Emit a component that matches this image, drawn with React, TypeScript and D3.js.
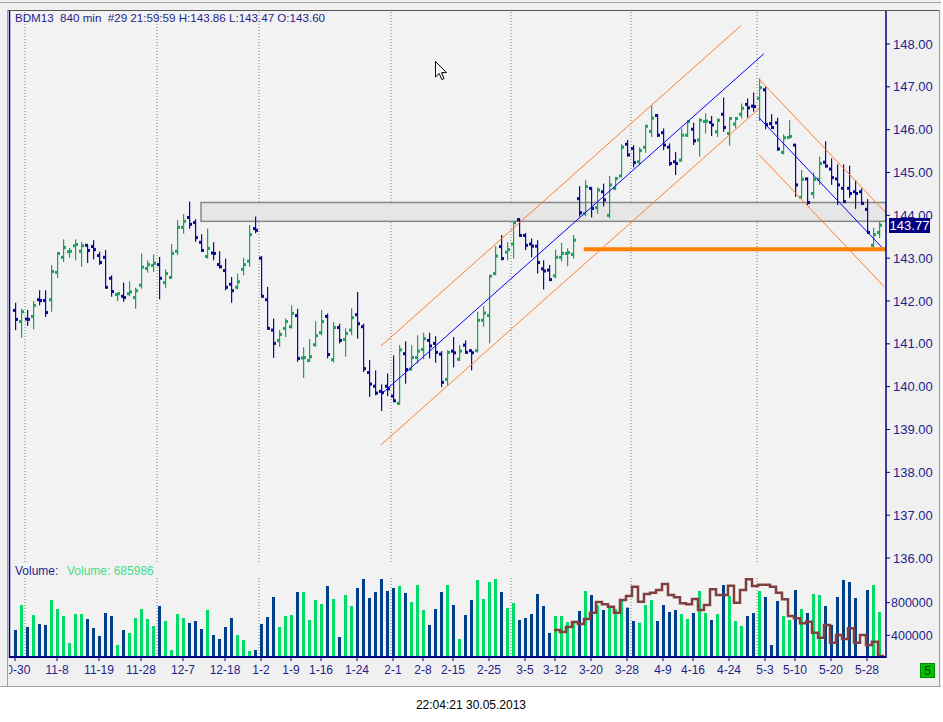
import React from "react";
import * as d3 from "d3";

// daily bars, index 0 = 10-30 ... index 144 = 5-30
const opens = [
  141.78, 141.52, 141.58, 141.64, 142.03, 142.01, 142.03, 142.67, 143.02, 143.15,
  143.29, 143.16, 143.3, 143.27, 143.06, 143.02, 142.53, 142.15, 142.11, 142.17,
  142.08, 142.37, 142.76, 142.83, 142.85, 142.43, 142.55, 143.16, 143.72, 143.95,
  143.83, 143.37, 143.04, 143.12, 142.85, 142.71, 142.39, 142.32, 142.74, 142.93,
  143.69, 143.0, 142.03, 141.32, 141.08, 141.36, 141.4, 141.66, 140.67, 140.61,
  140.98, 141.26, 141.64, 140.63, 141.38, 141.1, 141.32, 141.68, 141.4, 140.33,
  140.01, 139.89, 140.01, 139.78, 139.61, 140.77, 140.41, 140.68, 140.87, 141.08,
  141.01, 140.76, 140.17, 140.83, 140.64, 140.97, 140.84, 140.84, 141.55, 141.66,
  142.64, 143.27, 143.14, 143.33, 143.9, 143.53, 143.33, 143.28, 142.75, 142.72,
  142.59, 143.02, 143.11, 143.09, 144.39, 144.04, 144.63, 144.18, 144.55, 144.0,
  144.63, 144.92, 145.66, 145.56, 145.25, 145.59, 145.96, 146.33, 145.93, 145.59,
  145.25, 145.29, 145.87, 146.01, 145.76, 146.19, 146.17, 145.95, 146.36, 145.91,
  146.13, 146.36, 146.59, 146.55, 146.73, 146.93, 146.14, 146.16, 145.47, 145.82,
  145.64, 144.42, 144.85, 144.51, 144.84, 145.24, 145.08, 144.85, 144.63, 144.63,
  144.55, 144.55, 144.14, 143.3, 143.6,
];
const highs = [
  141.96, 141.82, 141.79, 142.0, 142.25, 142.25, 142.84, 143.13, 143.44, 143.24,
  143.44, 143.38, 143.32, 143.42, 143.15, 143.19, 142.6, 142.2, 142.43, 142.46,
  142.31, 143.11, 142.95, 143.09, 143.03, 142.74, 143.33, 143.89, 144.03, 144.32,
  143.91, 143.56, 143.69, 143.37, 143.16, 142.99, 142.56, 142.64, 143.01, 143.77,
  143.97, 143.05, 142.33, 141.59, 141.32, 141.59, 141.9, 141.82, 140.92, 141.11,
  141.53, 141.79, 141.71, 141.51, 141.47, 141.36, 141.83, 142.21, 141.47, 140.62,
  140.38, 140.05, 140.31, 140.73, 140.97, 141.06, 140.97, 141.2, 141.26, 141.26,
  141.18, 140.83, 140.85, 141.16, 140.97, 141.08, 140.85, 141.75, 141.88, 142.6,
  143.28, 143.54, 143.38, 143.83, 143.93, 143.59, 143.46, 143.42, 142.95, 142.84,
  143.2, 143.36, 143.23, 143.54, 144.68, 144.82, 144.65, 144.65, 144.74, 144.92,
  144.89, 145.66, 145.76, 145.64, 145.59, 146.08, 146.56, 146.36, 146.03, 145.68,
  145.48, 146.03, 146.21, 146.16, 146.26, 146.38, 146.32, 146.26, 146.75, 146.3,
  146.28, 146.61, 146.73, 146.87, 147.2, 147.0, 146.36, 146.28, 145.89, 146.22,
  145.66, 145.06, 144.88, 145.0, 145.37, 145.73, 145.33, 145.19, 145.19, 145.16,
  144.82, 144.63, 144.38, 143.71, 143.86,
];
const lows = [
  141.32, 141.14, 141.42, 141.34, 141.9, 141.63, 141.75, 142.54, 142.91, 143.01,
  142.95, 142.8, 142.89, 142.97, 142.84, 142.31, 142.1, 142.0, 141.98, 142.11,
  141.82, 142.29, 142.66, 142.68, 142.04, 142.31, 142.53, 143.07, 143.57, 143.69,
  143.38, 143.15, 142.99, 142.95, 142.76, 142.25, 141.96, 142.27, 142.6, 142.8,
  143.58, 142.1, 141.36, 140.67, 140.93, 141.16, 141.36, 140.58, 140.2, 140.59,
  140.93, 141.2, 140.66, 140.56, 141.01, 140.7, 141.2, 141.12, 140.34, 139.76,
  139.8, 139.43, 139.78, 139.64, 139.58, 140.07, 140.38, 140.54, 140.64, 140.66,
  140.56, 139.99, 140.03, 140.45, 140.6, 140.8, 140.38, 140.8, 141.4, 141.01,
  142.6, 142.95, 142.95, 142.99, 143.5, 143.19, 143.02, 142.64, 142.27, 142.47,
  142.53, 142.92, 142.81, 142.99, 143.97, 143.98, 143.95, 144.04, 144.21, 143.93,
  144.59, 144.89, 145.37, 145.12, 145.17, 145.46, 145.83, 145.83, 145.52, 145.15,
  144.94, 145.25, 145.83, 145.64, 145.37, 145.91, 145.85, 145.83, 145.95, 145.63,
  146.03, 146.26, 146.28, 146.42, 146.2, 146.01, 146.03, 145.5, 145.42, 145.81,
  144.43, 144.41, 144.24, 144.39, 144.71, 145.12, 144.71, 144.24, 144.3, 144.41,
  144.15, 144.24, 143.6, 143.24, 143.47,
];
const closes = [
  141.57, 141.75, 141.57, 141.9, 142.01, 141.73, 142.69, 143.11, 143.25, 143.16,
  143.32, 143.29, 143.18, 143.2, 142.9, 142.32, 142.22, 142.17, 142.08, 142.21,
  142.24, 142.79, 142.85, 142.88, 142.53, 142.64, 143.11, 143.72, 143.86, 143.79,
  143.48, 143.18, 143.23, 143.11, 142.8, 142.32, 142.24, 142.45, 142.85, 143.55,
  143.65, 142.11, 141.36, 141.01, 141.22, 141.52, 141.71, 140.66, 140.68, 140.7,
  141.19, 141.52, 140.75, 141.38, 141.08, 141.24, 141.61, 141.47, 140.42, 140.06,
  139.85, 139.86, 139.95, 139.67, 140.86, 140.4, 140.68, 140.83, 141.12, 140.95,
  140.8, 140.1, 140.8, 140.79, 140.83, 140.8, 140.79, 141.55, 141.72, 142.58,
  143.05, 142.99, 143.2, 143.83, 143.53, 143.3, 143.28, 142.9, 142.7, 142.5,
  143.02, 143.11, 143.13, 143.42, 144.06, 144.67, 144.16, 144.59, 144.36, 144.71,
  144.86, 145.59, 145.41, 145.23, 145.51, 146.08, 146.27, 145.87, 145.64, 145.21,
  145.21, 145.87, 146.19, 145.74, 146.22, 146.2, 146.11, 146.22, 146.05, 146.26,
  146.26, 146.5, 146.51, 146.54, 146.98, 146.12, 146.05, 145.55, 145.81, 145.84,
  144.71, 144.84, 144.3, 144.84, 145.21, 145.15, 144.88, 144.71, 144.32, 144.51,
  144.51, 144.28, 143.6, 143.55, 143.77,
];
const volumes = [
  465000, 771700, 501800, 649000, 538600, 526350, 833100, 722700, 636800, 305500,
  661300, 661300, 600000, 489500, 391400, 673600, 636800, 281000, 465000, 428200,
  612200, 722700, 600000, 514100, 759500, 575400, 219600, 661300, 612200, 550900,
  575400, 477300, 710400, 403600, 354600, 501800, 612200, 403600, 342300, 207300,
  219600, 538600, 624500, 869900, 501800, 636800, 649000, 931300, 931300, 587700,
  833100, 784000, 1004900, 845400, 379100, 894500, 759500, 980300, 1090800, 857600,
  931300, 1090800, 943500, 980300, 1004900, 919000, 808600, 1017100, 710400, 526350,
  722700, 931300, 1017100, 771700, 354600, 649000, 833100, 1078500, 845400, 1054000,
  1090800, 931300, 734900, 796300, 587700, 612200, 661300, 906700, 759500, 428200,
  636800, 636800, 563200, 563200, 698100, 943500, 894400, 771700, 710400, 739000,
  722700, 820800, 739000, 575400, 555000, 771700, 833100, 575400, 771700, 685900,
  710400, 661300, 600000, 673600, 943500, 673600, 587700, 661300, 1017100, 882200,
  575400, 514100, 636800, 673600, 943500, 869900, 281000, 820800, 636800, 587700,
  955800, 722700, 673600, 906700, 894500, 759500, 526300, 869900, 1078500, 1054000,
  857600, 146000, 955800, 1017100, 685986,
];
// brown step line in the volume pane, starts at bar 90
const avgStart = 90;
const avgValues = [
  465000, 440500, 501800, 563200, 538600, 600000, 677700, 808600, 779900, 751300,
  677700, 833100, 882200, 996700, 812600, 906700, 923100, 955800, 1029400, 894500,
  865800, 792200, 779900, 845400, 710400, 771700, 964000, 894500, 894500, 1009000,
  800400, 955800, 1086700, 1004900, 1021200, 1021200, 996700, 923100, 841300, 636800,
  608200, 546800, 567300, 432300, 371000, 526300, 309600, 403700, 354600, 485500,
  309600, 403700, 281000, 321900, 146000,
];

const tickIndex = [0, 7, 14, 21, 28, 35, 41, 46, 51, 57, 63, 68, 73, 79, 85, 90, 96, 102, 108, 113, 119, 125, 130, 136, 142];
const tickLabels = [
  "10-30", "11-8", "11-19", "11-28", "12-7", "12-18", "1-2", "1-9", "1-16", "1-24", "2-1", "2-8", "2-15",
  "2-25", "3-5", "3-12", "3-20", "3-28", "4-9", "4-16", "4-24", "5-3", "5-10", "5-20", "5-28",
];
const monthStarts = [2, 24, 41, 63, 83, 103, 124];
const priceTicks = [136, 137, 138, 139, 140, 141, 142, 143, 144, 145, 146, 147, 148];
const volumeTicks = [400000, 800000];

// drawn objects: [index, price] end points
const upChannel = [
  { color: "#0000ff", a: [61, 139.82], b: [124.8, 147.77] },
  { color: "#ff7f2a", a: [61, 140.95], b: [121, 148.43] },
  { color: "#ff7f2a", a: [61, 138.64], b: [124, 146.49] },
];
const downChannel = [
  { color: "#0000ff", a: [124, 146.28], b: [144.9, 143.19] },
  { color: "#ff7f2a", a: [124, 147.18], b: [145, 144.08] },
  { color: "#ff7f2a", a: [124, 145.42], b: [144.9, 142.33] },
];
const zoneStart = 31;
const zoneLow = 143.86;
const zoneHigh = 144.3;
const supportStart = 94.8;
const supportLevel = 143.21;

const NAVY = "#1e1e8c";
const FONT = "'Liberation Sans', Arial, sans-serif";
const UP = "#17a35e";
const DOWN = "#0a0aa0";
const VOL_UP = "#00dd66";
const VOL_DOWN = "#003f8a";

const App: React.FC = () => {
  const left = 9;
  const right = 886;
  const volBase = 657;

  const x = d3.scaleLinear().domain([0, 144]).range([15, 879]);
  const y = d3.scaleLinear().domain([136, 148]).range([558, 44]);
  const yv = d3.scaleLinear().domain([400000, 800000]).range([635.3, 602.7]);
  const fmt = d3.format(".2f");

  const avgLine = d3
    .line<number>()
    .x((_, i) => x(avgStart + i) - 1)
    .y((v) => yv(v))
    .curve(d3.curveStepAfter);
  const last = avgValues[avgValues.length - 1];
  const avgPath = (avgLine(avgValues) || "") + `L${x(144) + 5},${yv(last)}`;

  const lastClose = closes[closes.length - 1];

  return (
    <svg
      width={943}
      height={722}
      style={{ position: "absolute", left: 0, top: 0, fontFamily: FONT }}
    >
      <defs>
        <clipPath id="plot">
          <rect x={left} y={11} width={right - left} height={volBase - 11} />
        </clipPath>
      </defs>
      <rect x={0} y={0} width={943} height={722} fill="#ffffff" />
      <rect x={0} y={0} width={941} height={687} fill="#f0f0f0" />
      <line x1={0} x2={941} y1={2.5} y2={2.5} stroke="#a0a0a0" />
      <line x1={7.5} x2={7.5} y1={10} y2={686} stroke="#a0a0a0" />
      <line x1={8} x2={940} y1={10.5} y2={10.5} stroke="#555" />
      <line x1={939.5} x2={939.5} y1={10} y2={686} stroke="#a0a0a0" />
      <line x1={0} x2={941} y1={686.5} y2={686.5} stroke="#a0a0a0" />
      <rect x={left} y={11} width={right - left} height={volBase - 11} fill="#f2f2f2" />

      {/* month separators */}
      {monthStarts.map((k) => (
        <g key={k}>
          <line x1={x(k) - 2} x2={x(k) - 2} y1={12} y2={562} stroke="#808080" strokeDasharray="1,2" />
          <line x1={x(k) - 2} x2={x(k) - 2} y1={578} y2={volBase} stroke="#808080" strokeDasharray="1,2" />
        </g>
      ))}

      <g clipPath="url(#plot)">
        <rect
          x={x(zoneStart)}
          y={y(zoneHigh)}
          width={right - x(zoneStart)}
          height={y(zoneLow) - y(zoneHigh)}
          fill="#e6e6e6"
          stroke="#888"
          strokeWidth={1.5}
        />

        {/* price bars */}
        {closes.map((c, i) => {
          const o = opens[i];
          const col = c > o ? UP : DOWN;
          const px = Math.round(x(i));
          return (
            <g key={i} fill={col}>
              <rect x={px} y={y(highs[i])} width={1.2} height={Math.max(1, y(lows[i]) - y(highs[i]))} />
              <rect x={px - 2} y={y(o) - 1.5} width={3} height={3} />
              <rect x={px} y={y(c) - 1.5} width={3} height={3} />
            </g>
          );
        })}

        {[...upChannel, ...downChannel].map((l, i) => (
          <line
            key={i}
            x1={x(l.a[0])}
            y1={y(l.a[1])}
            x2={x(l.b[0])}
            y2={y(l.b[1])}
            stroke={l.color}
            strokeWidth={1}
          />
        ))}
        <line
          x1={x(supportStart)}
          x2={right}
          y1={y(supportLevel)}
          y2={y(supportLevel)}
          stroke="#ff8000"
          strokeWidth={4}
        />

        {/* volume */}
        {volumes.map((v, i) => (
          <rect
            key={i}
            x={Math.round(x(i)) - 1}
            y={yv(v)}
            width={3}
            height={volBase - yv(v)}
            fill={closes[i] > opens[i] ? VOL_UP : VOL_DOWN}
          />
        ))}
        <path d={avgPath} fill="none" stroke="#7f3f3f" strokeWidth={2.5} />
      </g>

      {/* header */}
      <text x={15} y={21.5} fontSize={11.6} fill={NAVY} style={{ whiteSpace: "pre" }}>
        {`BDM13  840 min  #29 21:59:59 H:${fmt(highs[144])} L:${fmt(lows[144])} O:${fmt(opens[144])}`}
      </text>
      <text x={15} y={575} fontSize={12} fill={NAVY}>
        Volume:
      </text>
      <text x={67} y={575} fontSize={12} fill="#44dd8f">
        {`Volume: ${volumes[144]}`}
      </text>

      {/* axes */}
      <line x1={left + 0.5} x2={left + 0.5} y1={11} y2={volBase + 1} stroke="#000080" strokeWidth={1.5} />
      <line x1={right} x2={right} y1={11} y2={volBase + 1} stroke="#000080" strokeWidth={1.5} />
      <line x1={left} x2={right} y1={volBase} y2={volBase} stroke="#000080" strokeWidth={2} />

      {priceTicks.map((p) => (
        <g key={p}>
          <line x1={right} x2={right + 4} y1={y(p)} y2={y(p)} stroke="#000080" />
          <text x={893} y={y(p)} dy="0.35em" fontSize={13} fill={NAVY}>
            {fmt(p)}
          </text>
        </g>
      ))}
      {volumeTicks.map((v) => (
        <g key={v}>
          <line x1={right} x2={right + 4} y1={yv(v)} y2={yv(v)} stroke="#000080" />
          <text x={891} y={yv(v)} dy="0.35em" fontSize={12.5} fill={NAVY}>
            {v}
          </text>
        </g>
      ))}

      <rect x={889} y={218} width={41} height={15} fill="#000080" />
      <text x={909.5} y={225.5} dy="0.36em" textAnchor="middle" fontSize={13} fill="#ffffff">
        {fmt(lastClose)}
      </text>

      <clipPath id="xlab">
        <rect x={left} y={volBase} width={right - left + 40} height={25} />
      </clipPath>
      <g clipPath="url(#xlab)">
        {tickIndex.map((k, i) => (
          <g key={k}>
            <line x1={x(k)} x2={x(k)} y1={volBase} y2={volBase + 4} stroke="#000080" />
            <text x={x(k)} y={670} dy="0.35em" textAnchor="middle" fontSize={12} fill={NAVY}>
              {tickLabels[i]}
            </text>
          </g>
        ))}
      </g>

      <rect x={920.5} y={663.5} width={14} height={14} fill="#00c000" stroke="#008a00" />
      <text x={927.5} y={670.5} dy="0.36em" textAnchor="middle" fontSize={12} fill="#003300">
        5
      </text>

      <text x={471} y={705} dy="0.35em" textAnchor="middle" fontSize={12} fill="#000">
        22:04:21 30.05.2013
      </text>

      {/* mouse pointer */}
      <path
        d="M435.5,61.5 L435.5,77 L439.2,73.4 L441.8,79.5 L444,78.6 L441.5,72.6 L446.5,72.6 Z"
        fill="#ffffff"
        stroke="#000"
        strokeWidth={1}
      />
    </svg>
  );
};

export default App;
